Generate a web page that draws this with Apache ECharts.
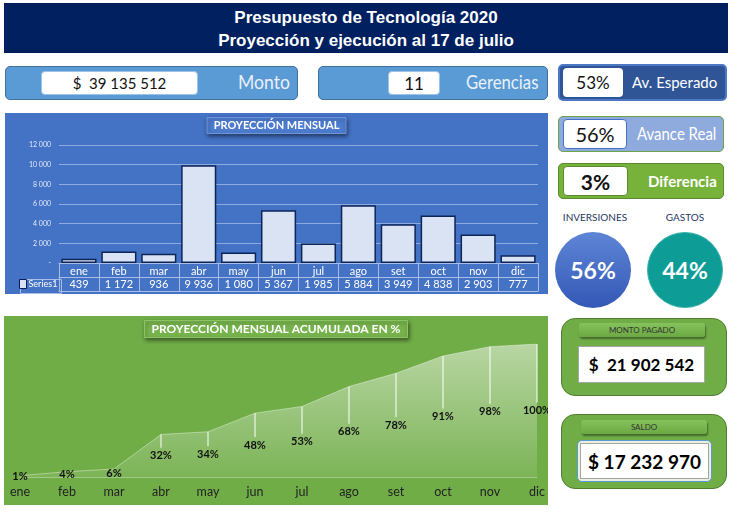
<!DOCTYPE html>
<html>
<head>
<meta charset="utf-8">
<script src="https://cdn.jsdelivr.net/npm/echarts@6/dist/echarts.min.js"></script>
<style>
  body { margin: 0; width: 737px; height: 516px; background: #fff; position: relative; overflow: hidden;
         font-family: Lato, "Liberation Sans", sans-serif; }
  .abs { position: absolute; box-sizing: border-box; }
  .center { display: flex; align-items: center; justify-content: center; white-space: pre; }
  .header { left: 4px; top: 3px; width: 724px; height: 50px; background: #002060; color: #fff;
            font: bold 17px "Liberation Sans", Arial, sans-serif; text-align: center; line-height: 23px; padding-top: 3px; }
  .kpi { border-radius: 5px; }
  .inner { background: #fff; border-radius: 4px; color: #111; }
  .lbl { color: #fff; white-space: nowrap; }
  .narrow { transform: scaleX(0.88); transform-origin: left center; }
  .tag { font-size: 10px; color: #1F3864; text-align: center; }
  .circle { border-radius: 50%; color: #fff; font-weight: bold; font-size: 23px; }
  .card { background: #70AD47; border: 1.5px solid #507E32; border-radius: 14px; }
  .cardHead { background: linear-gradient(#86C35C, #6CA843); border-radius: 3px; font-size: 8px; color: #333;
              box-shadow: 1px 2px 2px rgba(0,0,0,0.4); }
  .money { font-weight: bold; color: #000; }
</style>
</head>
<body>
<div class="abs header">Presupuesto de Tecnología 2020<br>Proyección y ejecución al 17 de julio</div>

<div class="abs kpi" style="left:5px;top:66px;width:293px;height:34px;background:#5B9BD5;border:1px solid #41719C;"></div>
<div class="abs inner center" id="montoBox" style="left:41px;top:71px;width:157px;height:24px;font-size:15px;border:1px solid #9DC3E6;"></div>
<div class="abs lbl narrow" style="left:238px;top:69px;font-size:20px;color:#EAF1FA;">Monto</div>

<div class="abs kpi" style="left:318px;top:66px;width:230px;height:34px;background:#5B9BD5;border:1px solid #41719C;"></div>
<div class="abs inner center" id="gerBox" style="left:388px;top:71px;width:52px;height:24px;font-size:17px;border:1px solid #9DC3E6;"></div>
<div class="abs lbl narrow" style="left:466px;top:70px;font-size:19px;color:#EAF1FA;">Gerencias</div>

<div class="abs kpi" style="left:558px;top:64px;width:169px;height:37px;background:#2F5597;border:2px solid #4F78C4;"></div>
<div class="abs inner center" id="espBox" style="left:563px;top:68px;width:60px;height:29px;font-size:17px;"></div>
<div class="abs lbl" style="left:632px;top:73px;font-size:15px;">Av. Esperado</div>

<div class="abs kpi" style="left:558px;top:116px;width:166px;height:36px;background:#8FAADC;border:1.5px solid #6FA04A;"></div>
<div class="abs inner center" id="realBox" style="left:563px;top:119px;width:64px;height:30px;font-size:20px;border:1px solid #4472C4;"></div>
<div class="abs lbl narrow" style="left:637px;top:123px;font-size:17px;">Avance Real</div>

<div class="abs kpi" style="left:558px;top:163px;width:166px;height:36px;background:#77B23A;border:1.5px solid #5A8A30;"></div>
<div class="abs inner center" id="difBox" style="left:563px;top:166px;width:65px;height:30px;font-size:21px;font-weight:bold;border:1px solid #5A8A30;"></div>
<div class="abs lbl" style="left:648px;top:172px;font-size:15px;font-weight:bold;">Diferencia</div>

<div class="abs tag" style="left:555px;top:211px;width:80px;">INVERSIONES</div>
<div class="abs tag" style="left:645px;top:211px;width:80px;">GASTOS</div>
<div class="abs circle center" id="invCircle" style="left:555px;top:232px;width:76px;height:76px;background:linear-gradient(#5F85D6,#3358B6);"></div>
<div class="abs circle center" id="gasCircle" style="left:647px;top:232px;width:76px;height:76px;background:#0E9C97;border:1px solid #3DB3AE;"></div>

<div class="abs card" style="left:561px;top:318px;width:166px;height:78px;"></div>
<div class="abs cardHead center" style="left:579px;top:323px;width:126px;height:14px;">MONTO PAGADO</div>
<div class="abs center money" id="pagadoBox" style="left:578px;top:346px;width:127px;height:37px;background:#fff;border:1px solid #A6A6A6;font-size:17px;"></div>

<div class="abs card" style="left:561px;top:414px;width:166px;height:75px;"></div>
<div class="abs cardHead center" style="left:581px;top:420px;width:126px;height:14px;">SALDO</div>
<div class="abs" style="left:577px;top:440px;width:135px;height:42px;background:#E7F0DF;border:1px solid #5B9BD5;border-radius:5px;"></div>
<div class="abs center money" id="saldoBox" style="left:580px;top:443px;width:129px;height:36px;background:#fff;border:1px solid #A6A6A6;font-size:19px;"></div>

<div class="abs" id="bar-chart" style="left:5px;top:113px;width:543px;height:181px;"></div>
<div class="abs" id="area-chart" style="left:4px;top:316px;width:544px;height:189px;"></div>

<script>
const months = ["ene", "feb", "mar", "abr", "may", "jun", "jul", "ago", "set", "oct", "nov", "dic"];
const monthly = [439, 1172, 936, 9936, 1080, 5367, 1985, 5884, 3949, 4838, 2903, 777];
const cumulativePct = [1, 4, 6, 32, 34, 48, 53, 68, 78, 91, 98, 100];

const totalBudget = 39135512;
const gerencias = 11;
const avanceEsperado = 53;
const avanceReal = 56;
const diferencia = 3;
const inversiones = 56;
const gastos = 44;
const montoPagado = 21902542;
const saldo = 17232970;

const fmt = (n) => String(n).replace(/\B(?=(\d{3})+(?!\d))/g, " ");

// KPI texts
document.getElementById("montoBox").textContent = "$  " + fmt(totalBudget);
document.getElementById("gerBox").textContent = gerencias;
document.getElementById("espBox").textContent = avanceEsperado + "%";
document.getElementById("realBox").textContent = avanceReal + "%";
document.getElementById("difBox").textContent = diferencia + "%";
document.getElementById("invCircle").textContent = inversiones + "%";
document.getElementById("gasCircle").textContent = gastos + "%";
document.getElementById("pagadoBox").textContent = "$  " + fmt(montoPagado);
document.getElementById("saldoBox").textContent = "$ " + fmt(saldo);

const tableLine = "#A9BEE6";

// === Bar Chart ===
const barChart = echarts.init(document.getElementById("bar-chart"));
barChart.setOption({
  animation: false,
  backgroundColor: "#4472C4",
  title: {
    text: "PROYECCIÓN MENSUAL",
    left: "center",
    top: 4,
    padding: [3, 7, 3, 7],
    backgroundColor: "#4D7CCF",
    borderColor: "#6F95DA",
    borderWidth: 1,
    shadowBlur: 4,
    shadowColor: "rgba(0,0,0,0.45)",
    shadowOffsetX: 1,
    shadowOffsetY: 2,
    textStyle: { color: "#fff", fontSize: 11, fontWeight: "bold", fontFamily: "Lato" },
  },
  legend: {
    data: ["Series1"],
    left: 14,
    top: 166,
    padding: 0,
    icon: "rect",
    itemWidth: 7,
    itemHeight: 9,
    textStyle: { color: "#fff", fontSize: 9, fontFamily: "Lato", padding: [0, 0, 0, -3] },
    itemStyle: { color: "#DAE3F3", borderColor: "#002060", borderWidth: 1 },
  },
  grid: { left: 54, right: 10, top: 32, bottom: 31 },
  xAxis: [
    {
      type: "category",
      data: months,
      position: "bottom",
      axisLine: { lineStyle: { color: tableLine } },
      axisTick: { show: true, interval: 0, length: 28, lineStyle: { color: tableLine } },
      axisLabel: { color: "#fff", fontSize: 11, margin: 3, fontFamily: "Lato" },
    },
    {
      type: "category",
      data: months,
      position: "bottom",
      offset: 14,
      axisLine: { lineStyle: { color: tableLine } },
      axisTick: { show: false },
      axisLabel: { color: "#fff", fontSize: 11, margin: 2, fontFamily: "Lato",
                   formatter: (v, i) => fmt(monthly[i]) },
    },
    {
      type: "category",
      data: months,
      position: "bottom",
      offset: 28,
      axisLine: { lineStyle: { color: tableLine } },
      axisTick: { show: false },
      axisLabel: { show: false },
    },
  ],
  yAxis: {
    type: "value",
    min: 0,
    max: 12000,
    interval: 2000,
    axisLine: { show: false },
    axisTick: { show: false },
    axisLabel: { color: "#E3EAF7", fontSize: 7, margin: 8, fontFamily: "Lato",
                 formatter: (v) => (v === 0 ? "-" : fmt(v)) },
    splitLine: { lineStyle: { color: "#8FAADC" } },
  },
  graphic: [
    { type: "rect", left: 13, top: 164, shape: { width: 41, height: 14 },
      style: { fill: "none", stroke: tableLine, lineWidth: 1 } },
  ],
  series: [
    {
      name: "Series1",
      type: "bar",
      data: monthly,
      barCategoryGap: "12%",
      itemStyle: { color: "#DAE3F3", borderColor: "#0B2559", borderWidth: 1.5 },
    },
  ],
});

// === Area Chart ===
const areaChart = echarts.init(document.getElementById("area-chart"));
areaChart.setOption({
  animation: false,
  backgroundColor: "#70AD47",
  title: {
    text: "PROYECCIÓN MENSUAL ACUMULADA EN %",
    left: "center",
    top: 4,
    padding: [3, 7, 3, 7],
    backgroundColor: "#77B34D",
    borderColor: "#8CC465",
    borderWidth: 1,
    shadowBlur: 4,
    shadowColor: "rgba(0,0,0,0.45)",
    shadowOffsetX: 1,
    shadowOffsetY: 2,
    textStyle: { color: "#fff", fontSize: 12, fontWeight: "bold", fontFamily: "Lato" },
  },
  grid: { left: 16, right: 11, top: 28, bottom: 28 },
  xAxis: {
    type: "category",
    boundaryGap: false,
    data: months,
    axisLine: { lineStyle: { color: "rgba(255,255,255,0.35)" } },
    axisTick: { show: false },
    axisLabel: { color: "#222", fontSize: 12.5, margin: 8, fontFamily: "Lato" },
  },
  yAxis: { type: "value", min: 0, max: 100, show: false },
  series: [
    {
      type: "line",
      data: cumulativePct,
      symbol: "none",
      lineStyle: { width: 1, color: "rgba(255,255,255,0.4)" },
      areaStyle: {
        color: {
          type: "linear", x: 0, y: 0, x2: 0, y2: 1,
          colorStops: [
            { offset: 0, color: "rgba(255,255,255,0.72)" },
            { offset: 1, color: "rgba(255,255,255,0.12)" },
          ],
        },
      },
    },
    {
      // drop lines + labels halfway between point and baseline
      type: "custom",
      data: cumulativePct.map((v, i) => [i, v]),
      z: 5,
      renderItem: (params, api) => {
        const p = api.coord([api.value(0), api.value(1)]);
        const b = api.coord([api.value(0), 0]);
        const mid = (p[1] + b[1]) / 2;
        const children = [];
        if (mid - 8 > p[1]) {
          children.push({ type: "line", shape: { x1: p[0], y1: p[1], x2: p[0], y2: mid - 8 },
                          style: { stroke: "#fff", lineWidth: 1 } });
        }
        children.push({ type: "text", style: { text: api.value(1) + "%", x: p[0], y: mid,
          align: "center", verticalAlign: "middle", fill: "#111", font: "bold 11px Lato" } });
        return { type: "group", children };
      },
    },
  ],
});
</script>
</body>
</html>
